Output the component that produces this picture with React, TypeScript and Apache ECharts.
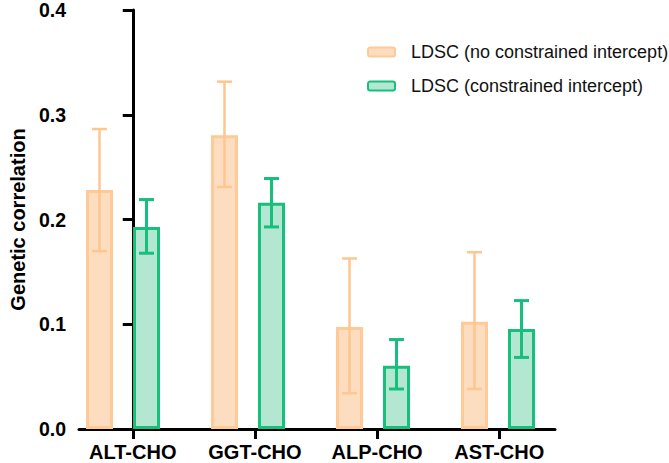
import React, { useEffect, useRef } from "react";
import * as echarts from "echarts";

const categories = ["ALT-CHO", "GGT-CHO", "ALP-CHO", "AST-CHO"];
const seriesNames = ["LDSC (no constrained intercept)", "LDSC (constrained intercept)"];
const noConstrained = [0.227, 0.279, 0.097, 0.102];
const noConstrainedLow = [0.169, 0.230, 0.034, 0.038];
const noConstrainedHigh = [0.285, 0.330, 0.162, 0.168];
const constrained = [0.192, 0.215, 0.060, 0.095];
const constrainedLow = [0.167, 0.192, 0.038, 0.068];
const constrainedHigh = [0.218, 0.238, 0.085, 0.122];
const yTicks = [0, 0.1, 0.2, 0.3, 0.4];

const FONT = "Liberation Sans, Arial, sans-serif";
const BAR_W = 27;
const BAR_GAP_PX = 20;
const HALF_SHIFT = (BAR_W + BAR_GAP_PX) / 2;

function errorSeries(low: number[], high: number[], color: string, width: number, shift: number) {
  return {
    type: "custom",
    xAxisIndex: 1,
    yAxisIndex: 1,
    z: 5,
    silent: true,
    encode: { x: 0, y: [1, 2] },
    data: low.map((l, i) => [i, l, high[i]]),
    renderItem: (params: any, api: any) => {
      const x = api.value(0);
      const pLo = api.coord([x, api.value(1)]);
      const pHi = api.coord([x, api.value(2)]);
      const cx = pHi[0] + shift;
      const cap = 7.5;
      const style = { stroke: color, lineWidth: width, fill: "none" };
      return {
        type: "group",
        children: [
          { type: "line", shape: { x1: cx, y1: pHi[1], x2: cx, y2: pLo[1] }, style },
          { type: "line", shape: { x1: cx - cap, y1: pHi[1], x2: cx + cap, y2: pHi[1] }, style },
          { type: "line", shape: { x1: cx - cap, y1: pLo[1], x2: cx + cap, y2: pLo[1] }, style },
        ],
      };
    },
  };
}

export default function App() {
  const ref = useRef<HTMLDivElement>(null);
  useEffect(() => {
    if (!ref.current) return;
    const chart = echarts.init(ref.current, undefined, { renderer: "svg" });
    const catIdx = categories.map((_, i) => i);
    chart.setOption({
      animation: false,
      backgroundColor: "#ffffff",
      textStyle: { fontFamily: FONT },
      grid: [
        { left: 68, right: 114, top: 8, bottom: 34, containLabel: false },
        { left: 60.5, width: 500, top: 8, bottom: 34, containLabel: false },
      ],
      legend: {
        orient: "vertical",
        left: 362,
        top: 38,
        itemWidth: 27,
        itemHeight: 9,
        itemGap: 16,
        data: seriesNames,
        textStyle: { fontSize: 18, color: "#111", fontFamily: FONT, padding: [0, 0, 0, 11] },
      },
      xAxis: [
        {
          type: "value",
          gridIndex: 0,
          min: -0.44,
          max: 3.456,
          splitLine: { show: false },
          axisLine: { show: true, onZero: false, lineStyle: { color: "#000", width: 3 } },
          axisTick: { show: true, length: 10, lineStyle: { color: "#000", width: 3 }, customValues: catIdx },
          axisLabel: {
            customValues: catIdx,
            formatter: (v: number) => categories[Math.round(v)] ?? "",
            fontSize: 20,
            fontWeight: "bold",
            color: "#000",
            margin: 13,
            fontFamily: FONT,
          },
        },
        {
          type: "category",
          gridIndex: 1,
          data: categories,
          show: false,
        },
      ],
      yAxis: [
        {
          type: "value",
          gridIndex: 0,
          min: 0,
          max: 0.4,
          interval: 0.1,
          name: "Genetic correlation",
          nameLocation: "middle",
          nameGap: 49,
          nameTextStyle: { fontSize: 20, fontWeight: "bold", color: "#000", fontFamily: FONT },
          splitLine: { show: false },
          axisLine: { show: true, lineStyle: { color: "#000", width: 3 } },
          axisTick: { show: true, length: 10, lineStyle: { color: "#000", width: 3 } },
          axisLabel: {
            formatter: (v: number) => (yTicks.includes(Math.round(v * 10) / 10) ? v.toFixed(1) : ""),
            fontSize: 19.5,
            fontWeight: "bold",
            color: "#000",
            margin: 13,
            fontFamily: FONT,
          },
        },
        {
          type: "value",
          gridIndex: 1,
          min: 0,
          max: 0.4,
          interval: 0.1,
          show: false,
          splitLine: { show: false },
        },
      ],
      series: [
        {
          name: seriesNames[0],
          type: "bar",
          xAxisIndex: 1,
          yAxisIndex: 1,
          barWidth: BAR_W,
          barGap: `${(BAR_GAP_PX / BAR_W) * 100}%`,
          data: noConstrained,
          itemStyle: { color: "#FCDDBF", borderColor: "#FFCA95", borderWidth: 3 },
          z: 2,
        },
        {
          name: seriesNames[1],
          type: "bar",
          xAxisIndex: 1,
          yAxisIndex: 1,
          barWidth: BAR_W,
          barGap: `${(BAR_GAP_PX / BAR_W) * 100}%`,
          data: constrained,
          itemStyle: { color: "#B3E7D2", borderColor: "#17BF7C", borderWidth: 3 },
          z: 2,
        },
        errorSeries(noConstrainedLow, noConstrainedHigh, "#FFC68F", 2.5, -HALF_SHIFT),
        errorSeries(constrainedLow, constrainedHigh, "#17BF7C", 3, HALF_SHIFT),
      ],
    });
    return () => chart.dispose();
  }, []);
  return (
    <div
      ref={ref}
      style={{ position: "fixed", left: 0, top: 0, width: 669, height: 463, background: "#fff" }}
    />
  );
}
